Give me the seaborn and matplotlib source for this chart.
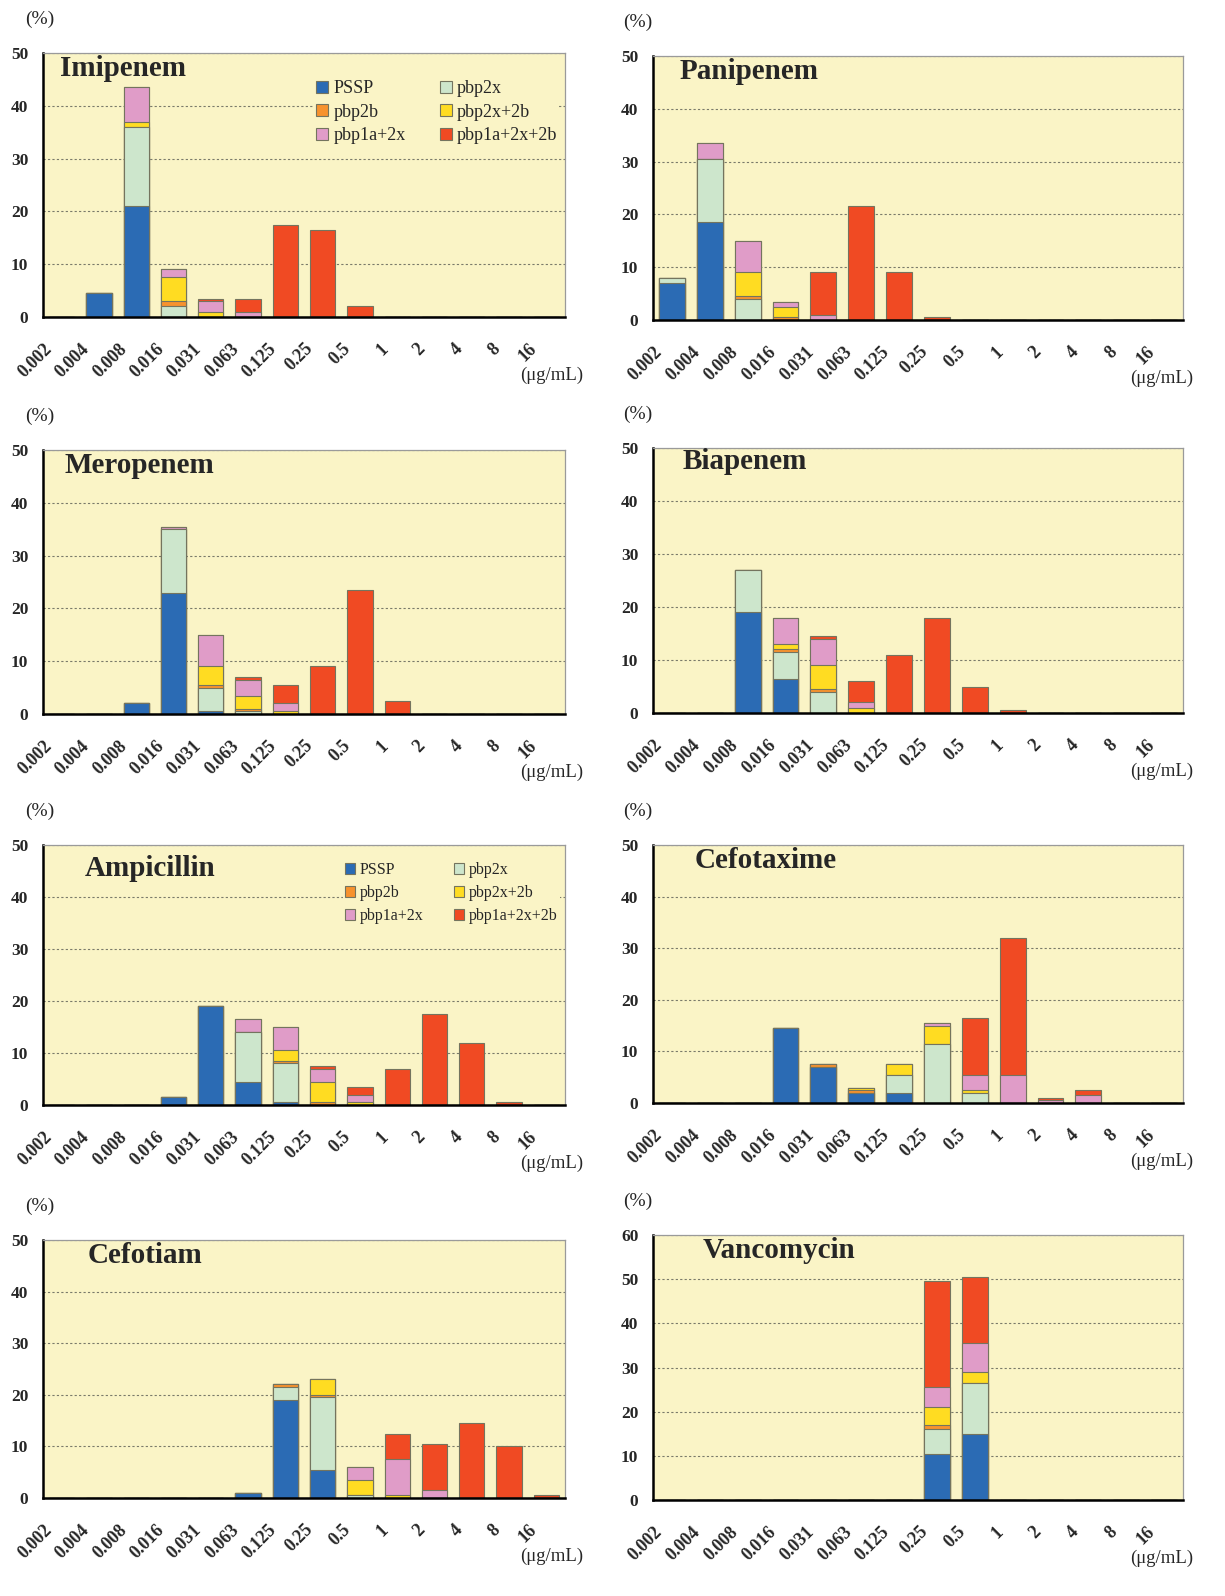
import numpy as np
import matplotlib
matplotlib.use("Agg")
import matplotlib.pyplot as plt
import matplotlib.transforms as mtransforms
from matplotlib.patches import Patch
import pandas as pd
import seaborn as sns

mic_labels = ["0.002", "0.004", "0.008", "0.016", "0.031", "0.063", "0.125",
              "0.25", "0.5", "1", "2", "4", "8", "16"]
genotypes = ["PSSP", "pbp2x", "pbp2b", "pbp2x+2b", "pbp1a+2x", "pbp1a+2x+2b"]
colors = ["#2b6bb4", "#cde6cc", "#f7922e", "#ffdc22", "#e09cc8", "#f04a23"]

# % of strains per MIC, one list per genotype (bottom to top of each stack)
imipenem_pssp = [0, 4.5, 21, 0, 0, 0, 0, 0, 0, 0, 0, 0, 0, 0]
imipenem_2x = [0, 0, 15, 2, 0, 0, 0, 0, 0, 0, 0, 0, 0, 0]
imipenem_2b = [0, 0, 0, 1, 0, 0, 0, 0, 0, 0, 0, 0, 0, 0]
imipenem_2x2b = [0, 0, 1, 4.5, 1, 0, 0, 0, 0, 0, 0, 0, 0, 0]
imipenem_1a2x = [0, 0, 6.5, 1.5, 2, 1, 0, 0, 0, 0, 0, 0, 0, 0]
imipenem_1a2x2b = [0, 0, 0, 0, 0.5, 2.5, 17.5, 16.5, 2, 0, 0, 0, 0, 0]

panipenem_pssp = [7, 18.5, 0, 0, 0, 0, 0, 0, 0, 0, 0, 0, 0, 0]
panipenem_2x = [1, 12, 4, 0, 0, 0, 0, 0, 0, 0, 0, 0, 0, 0]
panipenem_2b = [0, 0, 0.5, 0.5, 0, 0, 0, 0, 0, 0, 0, 0, 0, 0]
panipenem_2x2b = [0, 0, 4.5, 2, 0, 0, 0, 0, 0, 0, 0, 0, 0, 0]
panipenem_1a2x = [0, 3, 6, 1, 1, 0, 0, 0, 0, 0, 0, 0, 0, 0]
panipenem_1a2x2b = [0, 0, 0, 0, 8, 21.5, 9, 0.5, 0, 0, 0, 0, 0, 0]

meropenem_pssp = [0, 0, 2, 23, 0.5, 0, 0, 0, 0, 0, 0, 0, 0, 0]
meropenem_2x = [0, 0, 0, 12, 4.5, 0.5, 0, 0, 0, 0, 0, 0, 0, 0]
meropenem_2b = [0, 0, 0, 0, 0.5, 0.5, 0, 0, 0, 0, 0, 0, 0, 0]
meropenem_2x2b = [0, 0, 0, 0, 3.5, 2.5, 0.5, 0, 0, 0, 0, 0, 0, 0]
meropenem_1a2x = [0, 0, 0, 0.5, 6, 3, 1.5, 0, 0, 0, 0, 0, 0, 0]
meropenem_1a2x2b = [0, 0, 0, 0, 0, 0.5, 3.5, 9, 23.5, 2.5, 0, 0, 0, 0]

biapenem_pssp = [0, 0, 19, 6.5, 0, 0, 0, 0, 0, 0, 0, 0, 0, 0]
biapenem_2x = [0, 0, 8, 5, 4, 0, 0, 0, 0, 0, 0, 0, 0, 0]
biapenem_2b = [0, 0, 0, 0.5, 0.5, 0, 0, 0, 0, 0, 0, 0, 0, 0]
biapenem_2x2b = [0, 0, 0, 1, 4.5, 1, 0, 0, 0, 0, 0, 0, 0, 0]
biapenem_1a2x = [0, 0, 0, 5, 5, 1, 0, 0, 0, 0, 0, 0, 0, 0]
biapenem_1a2x2b = [0, 0, 0, 0, 0.5, 4, 11, 18, 5, 0.5, 0, 0, 0, 0]

ampicillin_pssp = [0, 0, 0, 1.5, 19, 4.5, 0.5, 0, 0, 0, 0, 0, 0, 0]
ampicillin_2x = [0, 0, 0, 0, 0, 9.5, 7.5, 0, 0, 0, 0, 0, 0, 0]
ampicillin_2b = [0, 0, 0, 0, 0, 0, 0.5, 0.5, 0, 0, 0, 0, 0, 0]
ampicillin_2x2b = [0, 0, 0, 0, 0, 0, 2, 4, 0.5, 0, 0, 0, 0, 0]
ampicillin_1a2x = [0, 0, 0, 0, 0, 2.5, 4.5, 2.5, 1.5, 0, 0, 0, 0, 0]
ampicillin_1a2x2b = [0, 0, 0, 0, 0, 0, 0, 0.5, 1.5, 7, 17.5, 12, 0.5, 0]

cefotaxime_pssp = [0, 0, 0, 14.5, 7, 2, 2, 0, 0, 0, 0, 0, 0, 0]
cefotaxime_2x = [0, 0, 0, 0, 0, 0, 3.5, 11.5, 2, 0, 0, 0, 0, 0]
cefotaxime_2b = [0, 0, 0, 0, 0.5, 0.5, 0, 0, 0, 0, 0, 0, 0, 0]
cefotaxime_2x2b = [0, 0, 0, 0, 0, 0.5, 2, 3.5, 0.5, 0, 0, 0, 0, 0]
cefotaxime_1a2x = [0, 0, 0, 0, 0, 0, 0, 0.5, 3, 5.5, 0.5, 1.5, 0, 0]
cefotaxime_1a2x2b = [0, 0, 0, 0, 0, 0, 0, 0, 11, 26.5, 0.5, 1, 0, 0]

cefotiam_pssp = [0, 0, 0, 0, 0, 1, 19, 5.5, 0, 0, 0, 0, 0, 0]
cefotiam_2x = [0, 0, 0, 0, 0, 0, 2.5, 14, 0.5, 0, 0, 0, 0, 0]
cefotiam_2b = [0, 0, 0, 0, 0, 0, 0.5, 0.5, 0, 0, 0, 0, 0, 0]
cefotiam_2x2b = [0, 0, 0, 0, 0, 0, 0, 3, 3, 0.5, 0, 0, 0, 0]
cefotiam_1a2x = [0, 0, 0, 0, 0, 0, 0, 0, 2.5, 7, 1.5, 0, 0, 0]
cefotiam_1a2x2b = [0, 0, 0, 0, 0, 0, 0, 0, 0, 5, 9, 14.5, 10, 0.5]

vancomycin_pssp = [0, 0, 0, 0, 0, 0, 0, 10.5, 15, 0, 0, 0, 0, 0]
vancomycin_2x = [0, 0, 0, 0, 0, 0, 0, 5.5, 11.5, 0, 0, 0, 0, 0]
vancomycin_2b = [0, 0, 0, 0, 0, 0, 0, 1, 0, 0, 0, 0, 0, 0]
vancomycin_2x2b = [0, 0, 0, 0, 0, 0, 0, 4, 2.5, 0, 0, 0, 0, 0]
vancomycin_1a2x = [0, 0, 0, 0, 0, 0, 0, 4.5, 6.5, 0, 0, 0, 0, 0]
vancomycin_1a2x2b = [0, 0, 0, 0, 0, 0, 0, 24, 15, 0, 0, 0, 0, 0]

BG = "#faf4c6"
EDGE = "#74745e"
W, H = 1225, 1596

sns.set_style("white")
plt.rcParams["font.family"] = ["Liberation Serif", "DejaVu Serif"]


def draw_panel(fig, rect, title, layers, ymax, title_xy, legend=None):
    left, top, right, bottom = rect
    ax = fig.add_axes([left / W, 1 - bottom / H, (right - left) / W, (bottom - top) / H])
    ax.set_facecolor(BG)

    frame = pd.DataFrame(dict(zip(genotypes, layers)), index=mic_labels)
    cumulative = frame.cumsum(axis=1)
    # tallest layer first, lower layers drawn over it -> stacked look
    for name, color in reversed(list(zip(genotypes, colors))):
        sns.barplot(x=mic_labels, y=cumulative[name].values, order=mic_labels,
                    color=color, saturation=1, width=0.68, edgecolor=EDGE,
                    linewidth=0.8, errorbar=None, ax=ax)

    ax.set_xlim(-0.5, len(mic_labels) - 0.5)
    ax.set_ylim(0, ymax)
    ax.set_yticks(range(0, ymax + 1, 10))
    ax.set_yticklabels([str(v) for v in range(0, ymax + 1, 10)],
                       fontweight="bold", fontsize=12.5)
    ax.tick_params(axis="y", length=5, width=1.5, pad=5.5, direction="out")

    ax.set_xticks(np.arange(len(mic_labels)))
    ax.set_xticklabels(mic_labels, rotation=45, ha="right", va="center",
                       rotation_mode="anchor", fontweight="bold", fontsize=13)
    ax.tick_params(axis="x", which="major", length=0, pad=21)
    ax.set_xticks(np.arange(-0.5, len(mic_labels), 1), minor=True)
    ax.tick_params(axis="x", which="minor", length=6, width=1.5, direction="out")
    shift = mtransforms.ScaledTranslation(-0.12, 0, fig.dpi_scale_trans)
    for lbl in ax.get_xticklabels():
        lbl.set_transform(lbl.get_transform() + shift)

    ax.set_xlabel("")
    ax.set_ylabel("")
    ax.yaxis.grid(True, linestyle=(0, (2, 2)), color="#7a7a6a", linewidth=0.8)
    ax.set_axisbelow(True)
    for side in ["left", "bottom"]:
        ax.spines[side].set_color("black")
        ax.spines[side].set_linewidth(1.8)
    for side in ["top", "right"]:
        ax.spines[side].set_color("#9a9a9a")
        ax.spines[side].set_linewidth(0.9)

    ax.text(title_xy[0], title_xy[1], title, transform=ax.transAxes,
            fontsize=21, fontweight="bold", ha="left", va="center")

    col_left = left < W / 2
    ax.annotate("(%)", xy=(0, 1), xycoords="axes fraction",
                xytext=(-3 if col_left else -15, 34), textcoords="offset pixels",
                ha="center", va="center", fontsize=14)
    ax.annotate("(\u03bcg/mL)", xy=(1, 0), xycoords="axes fraction",
                xytext=(18 if col_left else 10, -58), textcoords="offset pixels",
                ha="right", va="center", fontsize=13.5)

    if legend is not None:
        anchor, fsize, colspace, rowspace = legend
        handles = [Patch(facecolor=c, edgecolor=EDGE, linewidth=0.8) for c in colors]
        # matplotlib fills columns first; reorder so rows read PSSP, pbp2x / ...
        order = [0, 2, 4, 1, 3, 5]
        ax.legend([handles[i] for i in order], [genotypes[i] for i in order],
                  loc="upper left", bbox_to_anchor=anchor, ncol=2,
                  fontsize=fsize, handlelength=0.65, handleheight=0.65,
                  handletextpad=0.3, labelspacing=rowspace, columnspacing=colspace,
                  borderpad=0.1, borderaxespad=0, frameon=True,
                  facecolor=BG, edgecolor="none", framealpha=1)
    return ax


fig = plt.figure(figsize=(W / 100, H / 100), dpi=100)

panels = [
    ((43, 53, 565, 317), "Imipenem",
     [imipenem_pssp, imipenem_2x, imipenem_2b, imipenem_2x2b, imipenem_1a2x, imipenem_1a2x2b],
     50, (0.033, 0.943), ((0.52, 0.905), 13, 1.9, 0.37)),
    ((653, 56, 1183, 320), "Panipenem",
     [panipenem_pssp, panipenem_2x, panipenem_2b, panipenem_2x2b, panipenem_1a2x, panipenem_1a2x2b],
     50, (0.051, 0.943), None),
    ((43, 450, 565, 714), "Meropenem",
     [meropenem_pssp, meropenem_2x, meropenem_2b, meropenem_2x2b, meropenem_1a2x, meropenem_1a2x2b],
     50, (0.042, 0.943), None),
    ((653, 448, 1183, 713), "Biapenem",
     [biapenem_pssp, biapenem_2x, biapenem_2b, biapenem_2x2b, biapenem_1a2x, biapenem_1a2x2b],
     50, (0.055, 0.95), None),
    ((43, 845, 565, 1105), "Ampicillin",
     [ampicillin_pssp, ampicillin_2x, ampicillin_2b, ampicillin_2x2b, ampicillin_1a2x, ampicillin_1a2x2b],
     50, (0.08, 0.91), ((0.575, 0.94), 11.5, 1.9, 0.44)),
    ((653, 845, 1183, 1103), "Cefotaxime",
     [cefotaxime_pssp, cefotaxime_2x, cefotaxime_2b, cefotaxime_2x2b, cefotaxime_1a2x, cefotaxime_1a2x2b],
     50, (0.079, 0.94), None),
    ((43, 1240, 565, 1498), "Cefotiam",
     [cefotiam_pssp, cefotiam_2x, cefotiam_2b, cefotiam_2x2b, cefotiam_1a2x, cefotiam_1a2x2b],
     50, (0.086, 0.94), None),
    ((653, 1235, 1183, 1500), "Vancomycin",
     [vancomycin_pssp, vancomycin_2x, vancomycin_2b, vancomycin_2x2b, vancomycin_1a2x, vancomycin_1a2x2b],
     60, (0.094, 0.94), None),
]

for rect, title, layers, ymax, title_xy, legend in panels:
    draw_panel(fig, rect, title, layers, ymax, title_xy, legend)

fig.savefig("out.png", dpi=100, facecolor="white")
